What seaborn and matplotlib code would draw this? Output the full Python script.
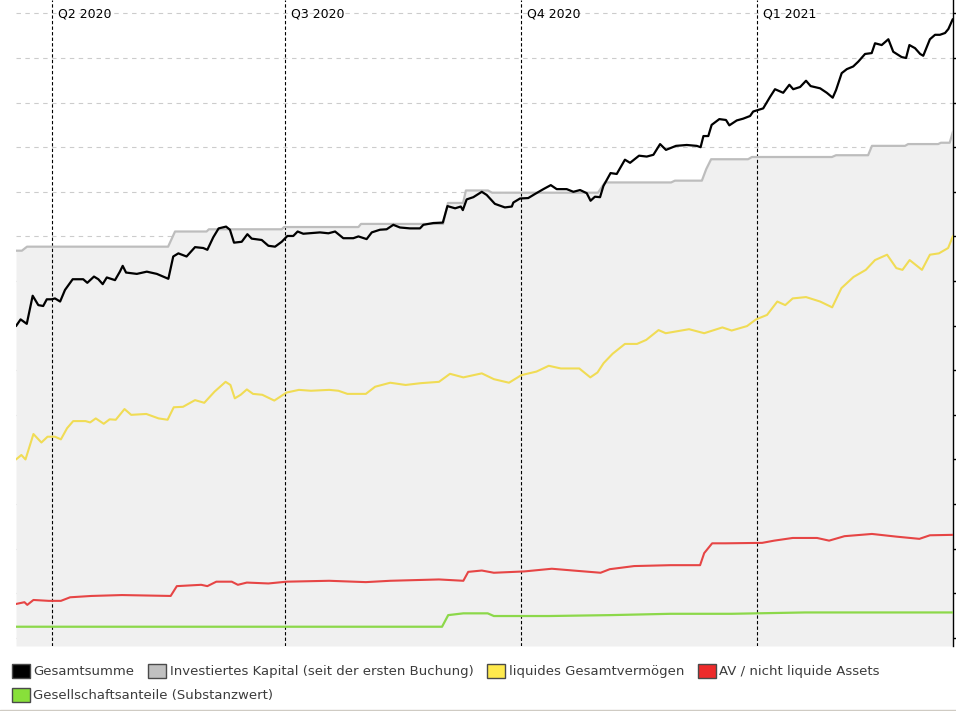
import pandas as pd
import matplotlib.pyplot as plt
import seaborn as sns
from matplotlib.patches import Patch
from matplotlib.lines import Line2D

# Tage seit dem Start (18.03.2020), Werte in 1000 EUR
start_date = pd.Timestamp("2020-03-18")
end_day = 365.3

total_days = [0, 1.8, 4.2, 6.5, 8.7, 10.6, 12, 13.9, 15.2, 17.2,
              19.1, 22.1, 26.2, 27.8, 30.4, 32.1, 33.8, 35.4, 38.6, 40.5,
              41.6, 42.9, 47.1, 51, 54.9, 59.4, 61.3, 63.3, 66.5, 69.8,
              73, 74.6, 76.9, 79, 81.9, 83.4, 85, 88, 90.2, 91.9,
              95.8, 98.4, 101, 103.6, 105.8, 108.1, 109.8, 112, 118.5, 121.8,
              124.4, 127.6, 131.5, 133.5, 136.7, 138.7, 141.9, 144.5, 147.1, 149.7,
              153.6, 157.5, 158.8, 162.7, 166.4, 168.2, 171.2, 173.4, 174.2, 175.7,
              178.3, 181.6, 183.5, 186.7, 190.6, 193.3, 193.9, 196.5, 199.7, 202.3,
              205.6, 208.5, 210.8, 214.7, 217.3, 219.9, 222.5, 224, 225.7, 227.7,
              229, 231.8, 234.2, 235.5, 237.4, 239.4, 242.9, 245.9, 248.5, 251.1,
              253.4, 257.3, 261.5, 265.4, 266.9, 268, 269.9, 271.2, 274.2, 276.8,
              278.1, 281, 283.5, 286.2, 287.4, 291.3, 294, 295.9, 299.1, 301.5,
              303, 305.7, 308, 309.8, 313.5, 316.1, 318.4, 319.7, 321.9, 323.9,
              326.4, 328.4, 331, 333.6, 334.9, 337.5, 340.1, 342, 345.3, 347,
              348.3, 350.5, 352.5, 353.7, 356.3, 358.3, 360.2, 362.2, 363.5, 365.2]
total_vals = [69.9, 71.4, 70.4, 76.7, 74.6, 74.4, 75.9, 75.9, 76.1, 75.4,
              78.0, 80.4, 80.4, 79.6, 81.0, 80.4, 79.3, 80.8, 80.2, 82.1,
              83.4, 81.9, 81.6, 82.1, 81.6, 80.5, 85.5, 86.2, 85.5, 87.6,
              87.4, 87.0, 89.8, 91.8, 92.2, 91.5, 88.6, 88.8, 90.5, 89.5,
              89.2, 87.9, 87.7, 88.8, 90.1, 90.1, 91.1, 90.6, 90.9, 90.7,
              91.1, 89.6, 89.6, 90.0, 89.4, 90.9, 91.5, 91.6, 92.6, 92.0,
              91.8, 91.8, 92.6, 93.0, 93.1, 96.8, 96.3, 96.7, 95.9, 98.3,
              98.8, 100.0, 99.3, 97.3, 96.5, 96.7, 97.6, 98.5, 98.6, 99.5,
              100.6, 101.5, 100.6, 100.6, 100.0, 100.4, 99.7, 98.0, 98.9, 98.8,
              101.3, 104.2, 104.0, 105.3, 107.2, 106.5, 108.1, 107.9, 108.3, 110.7,
              109.4, 110.3, 110.5, 110.3, 110.0, 112.5, 112.5, 115.0, 116.3, 116.1,
              114.9, 116.0, 116.4, 117.0, 118.0, 118.7, 121.3, 123.0, 122.2, 124.0,
              123.0, 123.5, 124.9, 123.7, 123.2, 122.2, 121.1, 122.8, 126.6, 127.5,
              128.1, 129.2, 130.9, 131.1, 133.3, 132.9, 134.2, 131.4, 130.2, 130.0,
              132.9, 132.2, 130.9, 130.5, 134.2, 135.2, 135.2, 135.6, 136.5, 138.7]

invested_days = [0, 2.3, 4.3, 59.3, 62, 74.3, 75.2, 103.6, 104.5, 133.5,
                 134.5, 166.5, 168.4, 174.3, 175.4, 184, 185.6, 226.9, 229.6, 255.4,
                 256.9, 267.4, 269.1, 271, 285.4, 286.9, 318.1, 319.7, 332.2, 333.7,
                 346.6, 347.8, 359.5, 360.6, 364, 365.3]
invested_vals = [86.8, 86.8, 87.7, 87.7, 91.1, 91.1, 91.6, 91.6, 92.1, 92.1,
                 92.8, 92.8, 97.5, 97.5, 100.3, 100.3, 99.8, 99.8, 102.1, 102.1,
                 102.5, 102.5, 105.1, 107.3, 107.3, 107.8, 107.8, 108.2, 108.2, 110.3,
                 110.3, 110.7, 110.7, 111.0, 111.0, 113.5]

liquid_days = [0, 2.1, 3.7, 6.8, 9.9, 12.3, 15.2, 17.5, 19.9, 22.3,
               27.1, 28.9, 31.1, 34.2, 36.5, 38.9, 42.3, 44.9, 50.8, 55.6,
               59.1, 61.5, 65.1, 69.8, 73.4, 77.4, 81.7, 83.6, 85.3, 87.6,
               90, 92.4, 96, 100.7, 105.5, 110.3, 115, 122.1, 125.7, 129.2,
               136.4, 140, 145.9, 151.9, 157.8, 164.9, 169.2, 174.4, 181.6, 186.3,
               192.2, 197, 202.9, 207.7, 212.4, 219.6, 223.9, 226.7, 229.1, 232.6,
               237.4, 242.1, 245.7, 250.5, 253.3, 262.4, 268.3, 275.4, 279, 285,
               288.5, 292.8, 296.8, 299.9, 302.8, 308, 313.5, 318.2, 321.8, 326.5,
               331.3, 334.9, 339.6, 343.2, 345.6, 348.4, 353.2, 356.3, 359.8, 363.4,
               365.3]
liquid_vals = [40.0, 41.0, 40.0, 45.7, 43.8, 45.1, 45.1, 44.5, 47.0, 48.6,
               48.6, 48.3, 49.2, 48.0, 49.0, 48.9, 51.3, 50.0, 50.2, 49.2,
               48.9, 51.7, 51.8, 53.3, 52.7, 55.2, 57.4, 56.7, 53.7, 54.5,
               55.7, 54.7, 54.5, 53.2, 55.0, 55.6, 55.4, 55.6, 55.4, 54.7,
               54.7, 56.3, 57.2, 56.7, 57.1, 57.4, 59.2, 58.4, 59.3, 58.0,
               57.2, 58.9, 59.7, 61.0, 60.4, 60.4, 58.4, 59.5, 61.6, 63.7,
               65.9, 65.9, 66.8, 69.0, 68.3, 69.2, 68.3, 69.6, 68.9, 69.9,
               71.4, 72.4, 75.4, 74.6, 76.1, 76.4, 75.4, 74.1, 78.4, 80.9,
               82.5, 84.7, 85.9, 82.9, 82.5, 84.7, 82.5, 85.9, 86.2, 87.4,
               90.1]

fixed_days = [0, 3.3, 4.4, 6.8, 12.8, 17.5, 21.1, 29.4, 41.3, 60.3,
              62.7, 72.2, 74.6, 78.1, 84.1, 86.5, 90, 98.4, 105.5, 122.1,
              131.6, 136.4, 145.9, 164.9, 174.4, 176.3, 181.6, 186.3, 198.2, 208.9,
              217.2, 227.9, 231.5, 241, 255.2, 266.7, 268.3, 271.4, 276.6, 290.9,
              295.6, 302.8, 312.3, 317, 323, 333.7, 343.2, 352.2, 356.3, 365.3]
fixed_vals = [7.6, 8.0, 7.4, 8.5, 8.3, 8.3, 9.1, 9.4, 9.6, 9.4,
              11.6, 11.9, 11.6, 12.6, 12.6, 11.9, 12.4, 12.2, 12.6, 12.8,
              12.6, 12.5, 12.8, 13.1, 12.8, 14.8, 15.1, 14.6, 14.9, 15.5,
              15.1, 14.6, 15.4, 16.1, 16.3, 16.3, 19.0, 21.2, 21.2, 21.3,
              21.8, 22.4, 22.4, 21.8, 22.8, 23.3, 22.7, 22.2, 23.0, 23.1]

shares_days = [0, 166.1, 168.5, 174.4, 183.9, 186.3, 207.7, 231.5, 255.2, 279, 307.6, 365.3]
shares_vals = [2.5, 2.5, 5.1, 5.5, 5.5, 4.9, 4.9, 5.1, 5.4, 5.4, 5.7, 5.7]

quarter_dates = ["2020-04-01", "2020-07-01", "2020-10-01", "2021-01-01"]
quarter_labels = ["Q2 2020", "Q3 2020", "Q4 2020", "Q1 2021"]

series_labels = ["Gesamtsumme", "Investiertes Kapital (seit der ersten Buchung)",
                 "liquides Gesamtvermögen", "AV / nicht liquide Assets",
                 "Gesellschaftsanteile (Substanzwert)"]
legend_colors = ["#000000", "#c0c0c0", "#ffea4d", "#ee2a2a", "#88e03a"]

Y_MIN, Y_MAX = -1.82, 143.0


def to_dates(days):
    return start_date + pd.to_timedelta(days, unit="D")


def main():
    sns.set_style("white")
    plt.rcParams['font.family'] = ['DejaVu Sans']

    fig = plt.figure(figsize=(9.56, 7.11), dpi=100)
    ax = fig.add_axes([16 / 956, 65 / 711, 937 / 956, 646 / 711])

    # grauer Bereich unter dem investierten Kapital
    inv_x = to_dates(invested_days)
    ax.fill_between(inv_x, invested_vals, Y_MIN, color="#f0f0f0", lw=0, zorder=1)

    sns.lineplot(x=inv_x, y=invested_vals, ax=ax, color="#bdbdbd", lw=1.6,
                 estimator=None, sort=False, zorder=3)
    sns.lineplot(x=to_dates(shares_days), y=shares_vals, ax=ax, color="#8cd84a", lw=1.6,
                 estimator=None, sort=False, zorder=3)
    sns.lineplot(x=to_dates(fixed_days), y=fixed_vals, ax=ax, color="#e64545", lw=1.5,
                 estimator=None, sort=False, zorder=3)
    sns.lineplot(x=to_dates(liquid_days), y=liquid_vals, ax=ax, color="#f0dc55", lw=1.5,
                 estimator=None, sort=False, zorder=3)
    sns.lineplot(x=to_dates(total_days), y=total_vals, ax=ax, color="black", lw=1.6,
                 estimator=None, sort=False, zorder=4)

    # Quartalslinien
    for d, lab in zip(quarter_dates, quarter_labels):
        qd = pd.Timestamp(d)
        ax.axvline(qd, color="black", lw=0.8, ls=(0, (3, 2)), zorder=2)
        ax.annotate(lab, xy=(qd, 1), xycoords=("data", "axes fraction"),
                    xytext=(4.3, -10), textcoords="offset points",
                    ha="left", va="center", fontsize=9, color="#000000")

    ax.set_xlim(start_date, start_date + pd.Timedelta(days=end_day))
    ax.set_ylim(Y_MIN, Y_MAX)
    ax.set_xticks([])
    ax.set_xlabel("")
    ax.set_ylabel("")
    ax.yaxis.tick_right()
    ax.set_yticks(range(0, 141, 10))
    ax.set_yticklabels([])
    ax.tick_params(axis="y", right=True, left=False, direction="out", length=3, width=1, color="black")
    ax.grid(axis="y", color="#cccccc", lw=0.8, ls=(0, (4, 4)))
    for side in ["left", "top", "bottom"]:
        ax.spines[side].set_visible(False)
    ax.spines["right"].set_color("black")
    ax.spines["right"].set_linewidth(1)

    # Legende
    handles = [Patch(facecolor=c, edgecolor="#4a4a4a", lw=1, label=l)
               for c, l in zip(legend_colors, series_labels)]
    leg_kw = dict(loc="center left", frameon=False, fontsize=9.5, handlelength=1.37,
                  handleheight=1.37, handletextpad=0.25, columnspacing=1.05,
                  borderpad=0, borderaxespad=0, labelcolor="#3c3c3c")
    fig.legend(handles=handles[:4], ncol=4, bbox_to_anchor=(12 / 956, 40 / 711), **leg_kw)
    fig.legend(handles=handles[4:], ncol=1, bbox_to_anchor=(12 / 956, 16 / 711), **leg_kw)

    fig.add_artist(Line2D([0, 1], [1.5 / 711, 1.5 / 711], color="#cfcbc3", lw=1,
                          transform=fig.transFigure))

    fig.savefig("out.png", dpi=100, facecolor="white")


if __name__ == '__main__':
    main()
